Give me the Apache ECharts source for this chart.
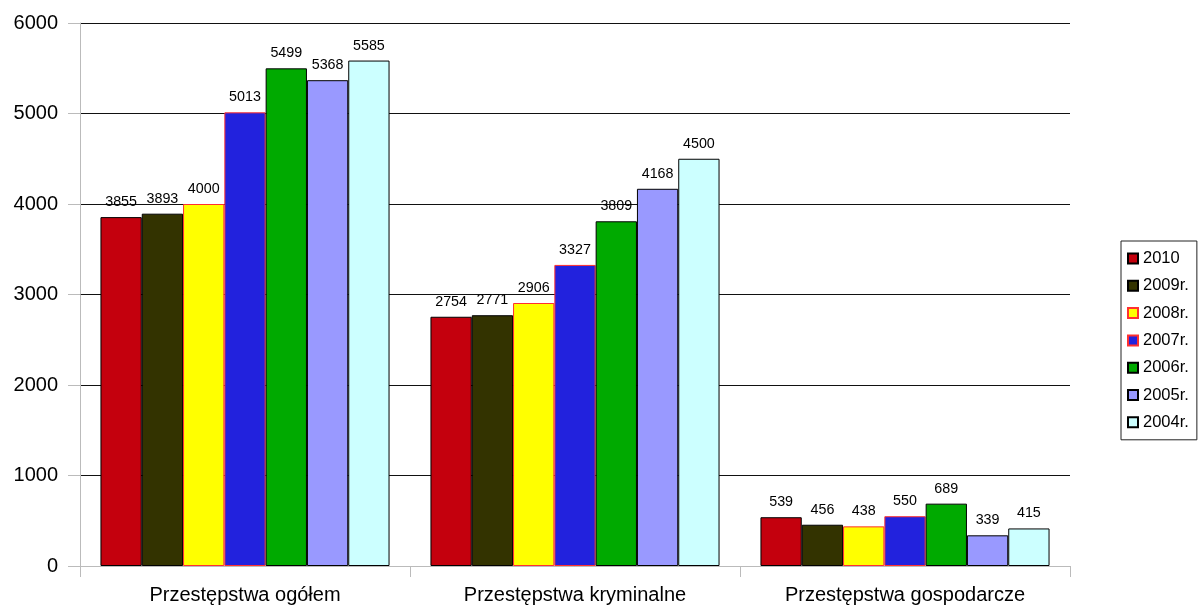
<!DOCTYPE html>
<html><head><meta charset="utf-8">
<script src="https://cdn.jsdelivr.net/npm/echarts@6/dist/echarts.min.js"></script>
<style>html,body{margin:0;padding:0;background:#fff}#c{width:1201px;height:610px}</style>
</head><body><div id="c"></div>
<script>
const categories = ['Przestępstwa ogółem','Przestępstwa kryminalne','Przestępstwa gospodarcze'];
const seriesNames = ['2010','2009r.','2008r.','2007r.','2006r.','2005r.','2004r.'];
const s2010 = [3855, 2754, 539];
const s2009 = [3893, 2771, 456];
const s2008 = [4000, 2906, 438];
const s2007 = [5013, 3327, 550];
const s2006 = [5499, 3809, 689];
const s2005 = [5368, 4168, 339];
const s2004 = [5585, 4500, 415];
const yTicks = [0, 1000, 2000, 3000, 4000, 5000, 6000];

const values = [s2010, s2009, s2008, s2007, s2006, s2005, s2004];
const colors = ['#C4000D','#333300','#FFFF00','#2222DD','#00AA00','#9999FF','#CCFFFF'];
const borders = ['#000','#000','#FF3030','#FF3030','#000','#000','#000'];
const font = 'Liberation Sans, Arial, sans-serif';

const chart = echarts.init(document.getElementById('c'));
chart.setOption({
  animation: false,
  grid: {left: 80, right: 131, top: 23, bottom: 44},
  legend: {
    orient: 'vertical', left: 1121, top: 241,
    data: seriesNames,
    itemWidth: 10, itemHeight: 10, itemGap: 10.3,
    borderColor: '#222', borderWidth: 1, padding: [9, 8, 9, 6],
    textStyle: {fontFamily: font, fontSize: 16.5, lineHeight: 16, color: '#000', padding: [0, 0, 0, 0]},
    icon: 'rect'
  },
  xAxis: {
    type: 'category', data: categories,
    axisLine: {lineStyle: {color: '#bbb'}},
    axisTick: {show: true, length: 11, lineStyle: {color: '#bbb'}},
    axisLabel: {fontFamily: font, fontSize: 20, lineHeight: 20, color: '#000', margin: 19.5}
  },
  yAxis: {
    type: 'value', min: 0, max: 6000, interval: 1000,
    axisLine: {show: true, lineStyle: {color: '#bbb'}},
    axisTick: {show: true, length: 12, lineStyle: {color: '#bbb'}},
    axisLabel: {fontFamily: font, fontSize: 20, color: '#000', margin: 22,
      formatter: v => yTicks.includes(v) ? String(v) : ''},
    splitLine: {lineStyle: {color: '#111', width: 1}}
  },
  series: values.map((d, i) => ({
    name: seriesNames[i], type: 'bar', data: d,
    barGap: '0%', barCategoryGap: '12.4%',
    itemStyle: {color: colors[i], borderColor: borders[i], borderWidth: 1},
    label: {show: true, position: 'top', distance: 8, fontFamily: font, fontSize: 14.3, color: '#000'}
  }))
});
</script></body></html>
